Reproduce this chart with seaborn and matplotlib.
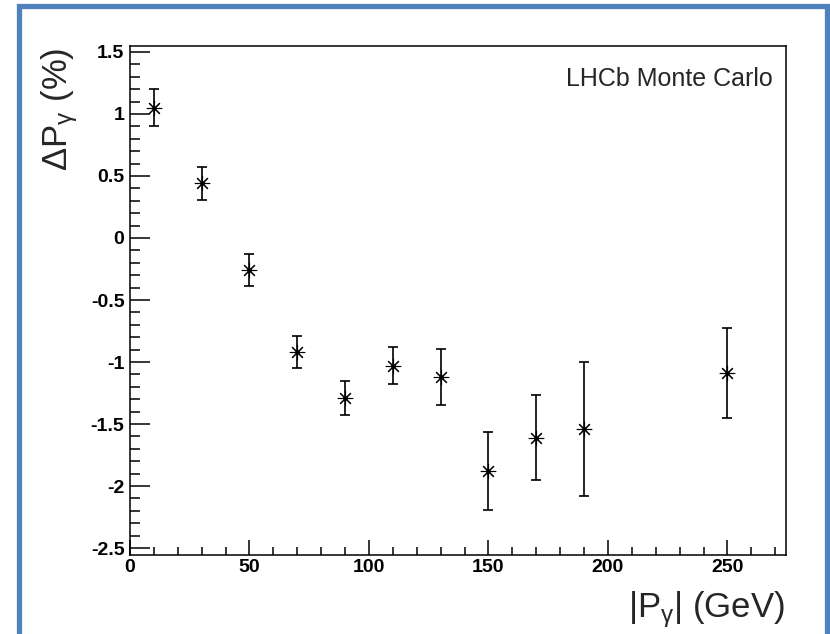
import matplotlib
matplotlib.use("Agg")
import matplotlib.pyplot as plt
from matplotlib.patches import Rectangle
from matplotlib.ticker import MultipleLocator, FuncFormatter
import seaborn as sns
import pandas as pd

# photon momentum bins (GeV), asymmetry (%) and its uncertainty
p_gamma = [10, 30, 50, 70, 90, 110, 130, 150, 170, 190, 250]
delta_p = [1.05, 0.44, -0.26, -0.92, -1.29, -1.03, -1.12, -1.88, -1.61, -1.54, -1.09]
delta_err = [0.15, 0.13, 0.13, 0.13, 0.135, 0.15, 0.225, 0.315, 0.345, 0.54, 0.365]

df = pd.DataFrame({"p": p_gamma, "dp": delta_p, "err": delta_err})

sns.set_theme(style="ticks")
plt.rcParams["font.family"] = ["Liberation Sans", "DejaVu Sans"]
plt.rcParams["mathtext.fontset"] = "custom"
plt.rcParams["mathtext.rm"] = "Liberation Sans"
plt.rcParams["mathtext.it"] = "Liberation Sans"

fig = plt.figure(figsize=(8.3, 6.34), dpi=100)
ax = fig.add_axes([130 / 830, 1 - 555 / 634, 656 / 830, 509 / 634])

ax.errorbar(df["p"], df["dp"], yerr=df["err"], fmt="none", ecolor="black",
            elinewidth=1.2, capsize=3.5, capthick=1.2, zorder=2)
sns.scatterplot(data=df, x="p", y="dp", marker=(8, 2, 0), s=110, color="black",
                linewidth=0.8, ax=ax, zorder=3, legend=False)
sns.scatterplot(data=df, x="p", y="dp", marker="o", s=10, color="black",
                linewidth=0, ax=ax, zorder=4, legend=False)

ax.set_xlim(0, 274.5)
ax.set_ylim(-2.556, 1.548)

ax.xaxis.set_major_locator(MultipleLocator(50))
ax.xaxis.set_minor_locator(MultipleLocator(10))
ax.yaxis.set_major_locator(MultipleLocator(0.5))
ax.yaxis.set_minor_locator(MultipleLocator(0.1))


def fmt(v, pos):
    s = f"{v:g}"
    return "0" if s in ("-0", "0") else s


ax.xaxis.set_major_formatter(FuncFormatter(fmt))
ax.yaxis.set_major_formatter(FuncFormatter(fmt))

ax.tick_params(axis="both", which="both", direction="in", top=False, right=False,
               width=1.1, color="black")
ax.tick_params(axis="y", which="major", length=14.4, pad=4)
ax.tick_params(axis="y", which="minor", length=7.2)
ax.tick_params(axis="x", which="major", length=11, pad=3)
ax.tick_params(axis="x", which="minor", length=5.5)
for lab in ax.get_xticklabels() + ax.get_yticklabels():
    lab.set_fontweight("bold")
    lab.set_fontsize(14)
    lab.set_color("black")

for sp in ax.spines.values():
    sp.set_color("black")
    sp.set_linewidth(1.1)

ax.set_xlabel("")
ax.set_ylabel("")

fig.text(785 / 830, 1 - 617 / 634, r"|P$_{\mathrm{γ}}$| (GeV)", ha="right",
         va="baseline", fontsize=25)
fig.text(60 / 830, 1 - 48 / 634, r"ΔP$_{\mathrm{γ}}$ (%)", ha="center", va="top",
         rotation=90, fontsize=25)
fig.text(773 / 830, 1 - 86 / 634, "LHCb Monte Carlo", ha="right", va="baseline",
         fontsize=18)

# slide frame
fig.patches.append(Rectangle((19 / 830, -0.2), (827 - 19) / 830, 1.2 - 6 / 634,
                             transform=fig.transFigure, fill=False,
                             edgecolor="#4F81BD", linewidth=3.8, zorder=10))

fig.savefig("out.png", dpi=100)
